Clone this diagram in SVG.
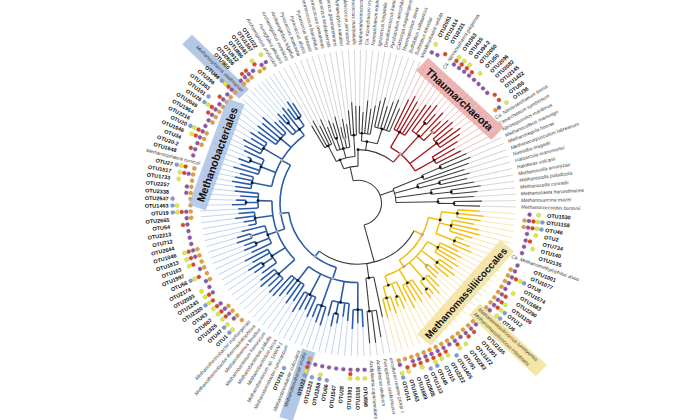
<svg xmlns="http://www.w3.org/2000/svg" width="700" height="420" viewBox="0 0 700 420">
<style>
text{font-family:"Liberation Sans",Arial,sans-serif;dominant-baseline:central}
.s{font-size:5px;font-style:italic;fill:#3a3a3a}
.o{font-size:5.5px;font-weight:bold;fill:#111}
.e{text-anchor:end}
.lf path{fill:none;stroke-width:.8}
.lk path{stroke:#cdcdcd}.lr path{stroke:#f0b4b4}.lb path{stroke:#b7cbe8}.ly path{stroke:#f5e2a0}
.lf circle{r:2.1px;stroke:#9a9a9a;stroke-width:.3}
.O{fill:#ec9a2c}.P{fill:#8c53a9}.R{fill:#e2401f}.Y{fill:#e0ee2c}.B{fill:#7d9bd6}
.br path,.br circle{fill:none}
.k path,.k circle{stroke:#3c3c3c;stroke-width:1.1}
.r path,.r circle{stroke:#a5171c;stroke-width:1.3}
.b path,.b circle{stroke:#2c5ba9;stroke-width:1.6}
.y path,.y circle{stroke:#f1bf12;stroke-width:1.5}
.nd circle{r:1.4px;fill:#111}
.nd circle.g{fill:#b0b0b0;stroke:#888;stroke-width:.3}
.cl{font-size:11px;font-weight:bold;fill:#111;text-anchor:middle}
</style>
<rect width="700" height="420" fill="#fff"/>
<g transform="translate(358 203) scale(1 0.97)">
<g id="species-highlights">
<rect x="160" y="-7" width="80" height="14" transform="rotate(224.6)" fill="#b3c7e6"/>
<rect x="160" y="-7" width="74" height="14" transform="rotate(107.9)" fill="#b3c7e6"/>
<rect x="160" y="-8" width="92" height="16" transform="rotate(43.3)" fill="#f5e6a6"/>
</g>
<g id="leaves">
<g id="n-Aprofundus" class="lf lk" transform="rotate(239.8)"><path d="M92 0H158"/><text class="s e" x="-163" transform="rotate(180)">Archaeoglobus profundus</text></g>
<g id="n-Fplacidus" class="lf lk" transform="rotate(242)"><path d="M96 0H158"/><text class="s e" x="-163" transform="rotate(180)">Ferroglobus placidus</text></g>
<g id="n-Aveneficus" class="lf lk" transform="rotate(244.3)"><path d="M88 0H158"/><text class="s e" x="-163" transform="rotate(180)">Archaeoglobus veneficus</text></g>
<g id="n-Afulgidus" class="lf lk" transform="rotate(246.5)"><path d="M94 0H158"/><text class="s e" x="-163" transform="rotate(180)">Archaeoglobus fulgidus</text></g>
<g id="n-Phorikoshii" class="lf lk" transform="rotate(248.7)"><path d="M84 0H158"/><text class="s e" x="-163" transform="rotate(180)">Pyrococcus horikoshii</text></g>
<g id="n-Pabyssi" class="lf lk" transform="rotate(250.9)"><path d="M90 0H158"/><text class="s e" x="-163" transform="rotate(180)">Pyrococcus abyssi</text></g>
<g id="n-Pfuriosus" class="lf lk" transform="rotate(253.1)"><path d="M86 0H158"/><text class="s e" x="-163" transform="rotate(180)">Pyrococcus furiosus</text></g>
<g id="n-Tbarophilus" class="lf lk" transform="rotate(255.4)"><path d="M92 0H158"/><text class="s e" x="-163" transform="rotate(180)">Thermococcus barophilus</text></g>
<g id="n-Tonnurineus" class="lf lk" transform="rotate(257.6)"><path d="M80 0H158"/><text class="s e" x="-163" transform="rotate(180)">Thermococcus onnurineus</text></g>
<g id="n-Tkodakarensis" class="lf lk" transform="rotate(259.8)"><path d="M88 0H158"/><text class="s e" x="-163" transform="rotate(180)">Thermococcus kodakarensis</text></g>
<g id="n-Tgammatolerans" class="lf lk" transform="rotate(262)"><path d="M82 0H158"/><text class="s e" x="-163" transform="rotate(180)">Thermococcus gammatolerans</text></g>
<g id="n-Mkandleri" class="lf lk" transform="rotate(264.2)"><path d="M96 0H158"/><text class="s e" x="-163" transform="rotate(180)">Methanopyrus kandleri</text></g>
<g id="n-Mjannaschii" class="lf lk" transform="rotate(266.5)"><path d="M104 0H158"/><text class="s e" x="-163" transform="rotate(180)">Methanocaldococcus jannaschii</text></g>
<g id="n-Mmaripaludis" class="lf lk" transform="rotate(268.7)"><path d="M100 0H158"/><text class="s e" x="-163" transform="rotate(180)">Methanococcus maripaludis</text></g>
<g id="n-Mokinawensis" class="lf lk" transform="rotate(-89.1)"><path d="M100 0H158"/><text class="s" x="163">Methanothermococcus okinawensis</text></g>
<g id="n-Kcryptofilum" class="lf lk" transform="rotate(-86.9)"><path d="M94 0H158"/><text class="s" x="163">Ca. Korarchaeum cryptofilum</text></g>
<g id="n-Nequitans" class="lf lk" transform="rotate(-84.7)"><path d="M106 0H158"/><text class="s" x="163">Nanoarchaeum equitans</text></g>
<g id="n-Ihospitalis" class="lf lk" transform="rotate(-82.4)"><path d="M98 0H158"/><text class="s" x="163">Ignicoccus hospitalis</text></g>
<g id="n-Dkamchatkensis" class="lf lk" transform="rotate(-80.2)"><path d="M102 0H158"/><text class="s" x="163">Desulfurococcus kamchatkensis</text></g>
<g id="n-Paerophilum" class="lf lk" transform="rotate(-78)"><path d="M108 0H158"/><text class="s" x="163">Pyrobaculum aerophilum</text></g>
<g id="n-Cmaquilingensis" class="lf lk" transform="rotate(-75.8)"><path d="M112 0H158"/><text class="s" x="163">Caldivirga maquilingensis</text></g>
<g id="n-Ttenax" class="lf lk" transform="rotate(-73.6)"><path d="M104 0H158"/><text class="s" x="163">Thermoproteus tenax</text></g>
<g id="n-Ssolfataricus" class="lf lk" transform="rotate(-71.3)"><path d="M110 0H158"/><text class="s" x="163">Sulfolobus solfataricus</text></g>
<g id="n-Stokodaii" class="lf lk" transform="rotate(-69.1)"><path d="M114 0H158"/><text class="s" x="163">Sulfolobus tokodaii</text></g>
<g id="n-Msedula" class="lf lk" transform="rotate(-66.9)"><path d="M106 0H158"/><text class="s" x="163">Metallosphaera sedula</text></g>

<g id="OTU2051" class="lf lr" transform="rotate(-64.6)"><path d="M118 0H158"/><circle class="P" cx="172"/><circle class="Y" cx="181"/><text class="o" x="189.5">OTU2051</text></g>
<g id="OTU1414" class="lf lr" transform="rotate(-62.5)"><path d="M124 0H158"/><circle class="P" cx="172"/><text class="o" x="189.5">OTU1414</text></g>
<g id="OTU2221" class="lf lr" transform="rotate(-60.4)"><path d="M120 0H158"/><circle class="R" cx="176.5"/><text class="o" x="189.5">OTU2221</text></g>
<g id="n-Ngargensis" class="lf lr" transform="rotate(-58.2)"><path d="M114 0H158"/><text class="s" x="163">Ca. Nitrososphaera gargensis</text></g>
<g id="OTU363" class="lf lr" transform="rotate(-56.1)"><path d="M122 0H158"/><circle class="P" cx="172"/><circle class="R" cx="176.5"/><circle class="Y" cx="181"/><text class="o" x="189.5">OTU363</text></g>
<g id="OTU435" class="lf lr" transform="rotate(-54)"><path d="M124 0H158"/><circle class="P" cx="172"/><circle class="R" cx="176.5"/><circle class="Y" cx="181"/><text class="o" x="189.5">OTU435</text></g>
<g id="OTU94-2" class="lf lr" transform="rotate(-51.9)"><path d="M128 0H158"/><circle class="P" cx="172"/><circle class="R" cx="176.5"/><circle class="Y" cx="181"/><text class="o" x="189.5">OTU94-2</text></g>
<g id="OTU2050" class="lf lr" transform="rotate(-49.8)"><path d="M120 0H158"/><circle class="P" cx="172"/><circle class="R" cx="176.5"/><text class="o" x="189.5">OTU2050</text></g>
<g id="OTU50" class="lf lr" transform="rotate(-47.6)"><path d="M126 0H158"/><circle class="P" cx="172"/><circle class="Y" cx="181"/><text class="o" x="189.5">OTU50</text></g>
<g id="OTU2096" class="lf lr" transform="rotate(-45.5)"><path d="M118 0H158"/><circle class="P" cx="172"/><text class="o" x="189.5">OTU2096</text></g>
<g id="OTU2082" class="lf lr" transform="rotate(-43.4)"><path d="M124 0H158"/><circle class="P" cx="172"/><text class="o" x="189.5">OTU2082</text></g>
<g id="OTU2145" class="lf lr" transform="rotate(-41.3)"><path d="M126 0H158"/><circle class="P" cx="172"/><text class="o" x="189.5">OTU2145</text></g>
<g id="OTU1422" class="lf lr" transform="rotate(-39.2)"><path d="M122 0H158"/><circle class="R" cx="176.5"/><text class="o" x="189.5">OTU1422</text></g>
<g id="OTU55" class="lf lr" transform="rotate(-37)"><path d="M128 0H158"/><circle class="R" cx="176.5"/><text class="o" x="189.5">OTU55</text></g>
<g id="OTU36" class="lf lr" transform="rotate(-34.9)"><path d="M124 0H158"/><circle class="O" cx="167.5"/><circle class="P" cx="172"/><circle class="Y" cx="181"/><text class="o" x="189.5">OTU36</text></g>
<g id="n-Nlimnia" class="lf lr" transform="rotate(-32.5)"><path d="M118 0H158"/><text class="s" x="163">Ca. Nitrosoarchaeum limnia</text></g>
<g id="n-Csymbiosum" class="lf lr" transform="rotate(-30.1)"><path d="M112 0H158"/><text class="s" x="163">Cenarchaeum symbiosum</text></g>
<g id="n-Nmaritimus" class="lf lr" transform="rotate(-27.6)"><path d="M116 0H158"/><text class="s" x="163">Nitrosopumilus maritimus</text></g>

<g id="n-Mmarisnigri" class="lf lk" transform="rotate(-25.2)"><path d="M120 0H158"/><text class="s" x="163">Methanoculleus marisnigri</text></g>
<g id="n-Mboonei" class="lf lk" transform="rotate(-22.8)"><path d="M122 0H158"/><text class="s" x="163">Methanoregula boonei</text></g>
<g id="n-Mlabreanum" class="lf lk" transform="rotate(-20.3)"><path d="M118 0H158"/><text class="s" x="163">Methanocorpusculum labreanum</text></g>
<g id="n-Nmagadii" class="lf lk" transform="rotate(-17.9)"><path d="M112 0H158"/><text class="s" x="163">Natrialba magadii</text></g>
<g id="n-Hmarismortui" class="lf lk" transform="rotate(-15.5)"><path d="M116 0H158"/><text class="s" x="163">Haloarcula marismortui</text></g>
<g id="n-Hvolcanii" class="lf lk" transform="rotate(-13)"><path d="M112 0H158"/><text class="s" x="163">Haloferax volcanii</text></g>
<g id="n-Marvoryzae" class="lf lk" transform="rotate(-10.6)"><path d="M118 0H158"/><text class="s" x="163">Methanocella arvoryzae</text></g>
<g id="n-Mpaludicola" class="lf lk" transform="rotate(-8.2)"><path d="M124 0H158"/><text class="s" x="163">Methanocella paludicola</text></g>
<g id="n-Mconradii" class="lf lk" transform="rotate(-5.7)"><path d="M120 0H158"/><text class="s" x="163">Methanocella conradii</text></g>
<g id="n-Mharundinacea" class="lf lk" transform="rotate(-3.3)"><path d="M116 0H158"/><text class="s" x="163">Methanosaeta harundinacea</text></g>
<g id="n-Mmazei" class="lf lk" transform="rotate(-0.9)"><path d="M124 0H158"/><text class="s" x="163">Methanosarcina mazei</text></g>
<g id="n-Mburtonii" class="lf lk" transform="rotate(1.5)"><path d="M122 0H158"/><text class="s" x="163">Methanococcoides burtonii</text></g>

<g id="OTU1530" class="lf ly" transform="rotate(4)"><path d="M122 0H158"/><circle class="P" cx="172"/><circle class="Y" cx="181"/><text class="o" x="189.5">OTU1530</text></g>
<g id="OTU1158" class="lf ly" transform="rotate(6.2)"><path d="M126 0H158"/><circle class="O" cx="167.5"/><circle class="P" cx="172"/><circle class="R" cx="176.5"/><circle class="Y" cx="181"/><circle class="B" cx="185.5"/><text class="o" x="189.5">OTU1158</text></g>
<g id="OTU46" class="lf ly" transform="rotate(8.5)"><path d="M124 0H158"/><circle class="O" cx="167.5"/><circle class="P" cx="172"/><circle class="R" cx="176.5"/><circle class="Y" cx="181"/><circle class="B" cx="185.5"/><text class="o" x="189.5">OTU46</text></g>
<g id="OTU2" class="lf ly" transform="rotate(10.7)"><path d="M118 0H158"/><circle class="P" cx="172"/><circle class="Y" cx="181"/><text class="o" x="189.5">OTU2</text></g>
<g id="OTU734" class="lf ly" transform="rotate(13)"><path d="M124 0H158"/><circle class="P" cx="172"/><circle class="R" cx="176.5"/><text class="o" x="189.5">OTU734</text></g>
<g id="OTU140" class="lf ly" transform="rotate(15.2)"><path d="M126 0H158"/><circle class="P" cx="172"/><circle class="Y" cx="181"/><text class="o" x="189.5">OTU140</text></g>
<g id="OTU2135" class="lf ly" transform="rotate(17.5)"><path d="M120 0H158"/><circle class="P" cx="172"/><text class="o" x="189.5">OTU2135</text></g>
<g id="n-Malvus" class="lf ly" transform="rotate(19.7)"><path d="M112 0H158"/><text class="s" x="163">Ca. Methanomethylophilus alvus</text></g>
<g id="OTU1001" class="lf ly" transform="rotate(22)"><path d="M120 0H158"/><circle class="P" cx="172"/><text class="o" x="189.5">OTU1001</text></g>
<g id="OTU1077" class="lf ly" transform="rotate(24.2)"><path d="M124 0H158"/><circle class="O" cx="167.5"/><circle class="P" cx="172"/><text class="o" x="189.5">OTU1077</text></g>
<g id="OTU8" class="lf ly" transform="rotate(26.5)"><path d="M112 0H158"/><circle class="O" cx="167.5"/><circle class="P" cx="172"/><circle class="R" cx="176.5"/><circle class="Y" cx="181"/><circle class="B" cx="185.5"/><text class="o" x="189.5">OTU8</text></g>
<g id="OTU1574" class="lf ly" transform="rotate(28.7)"><path d="M118 0H158"/><circle class="O" cx="167.5"/><circle class="P" cx="172"/><text class="o" x="189.5">OTU1574</text></g>
<g id="OTU1683" class="lf ly" transform="rotate(31)"><path d="M114 0H158"/><circle class="O" cx="167.5"/><circle class="P" cx="172"/><circle class="Y" cx="181"/><text class="o" x="189.5">OTU1683</text></g>
<g id="OTU2290" class="lf ly" transform="rotate(33.2)"><path d="M120 0H158"/><circle class="O" cx="167.5"/><circle class="P" cx="172"/><circle class="R" cx="176.5"/><text class="o" x="189.5">OTU2290</text></g>
<g id="OTU1106" class="lf ly" transform="rotate(35.5)"><path d="M116 0H158"/><circle class="O" cx="167.5"/><circle class="P" cx="172"/><circle class="R" cx="176.5"/><circle class="Y" cx="181"/><text class="o" x="189.5">OTU1106</text></g>
<g id="OTU12" class="lf ly" transform="rotate(37.7)"><path d="M122 0H158"/><circle class="O" cx="167.5"/><circle class="P" cx="172"/><circle class="R" cx="176.5"/><circle class="Y" cx="181"/><circle class="B" cx="185.5"/><text class="o" x="189.5">OTU12</text></g>
<g id="OTU9" class="lf ly" transform="rotate(40)"><path d="M118 0H158"/><circle class="O" cx="167.5"/><circle class="P" cx="172"/><circle class="Y" cx="181"/><circle class="B" cx="185.5"/><text class="o" x="189.5">OTU9</text></g>
<g id="n-Mluminyensis" class="lf ly" transform="rotate(42.2)"><path d="M108 0H158"/><text class="s" x="163">Methanomassiliicoccus luminyensis</text></g>
<g id="n-Mintestinalis" class="lf ly" transform="rotate(44.4)"><path d="M110 0H158"/><text class="s" x="163">Methanomassiliicoccus intestinalis</text></g>
<g id="OTU2165" class="lf ly" transform="rotate(46.7)"><path d="M118 0H158"/><circle class="O" cx="167.5"/><circle class="P" cx="172"/><text class="o" x="189.5">OTU2165</text></g>
<g id="OTU301" class="lf ly" transform="rotate(48.9)"><path d="M124 0H158"/><circle class="O" cx="167.5"/><circle class="P" cx="172"/><circle class="R" cx="176.5"/><text class="o" x="189.5">OTU301</text></g>
<g id="OTU1472" class="lf ly" transform="rotate(51.2)"><path d="M120 0H158"/><circle class="O" cx="167.5"/><circle class="P" cx="172"/><circle class="R" cx="176.5"/><text class="o" x="189.5">OTU1472</text></g>
<g id="OTU2283" class="lf ly" transform="rotate(53.4)"><path d="M122 0H158"/><circle class="O" cx="167.5"/><circle class="P" cx="172"/><circle class="Y" cx="181"/><text class="o" x="189.5">OTU2283</text></g>
<g id="OTU51" class="lf ly" transform="rotate(55.7)"><path d="M114 0H158"/><circle class="O" cx="167.5"/><circle class="P" cx="172"/><circle class="R" cx="176.5"/><circle class="Y" cx="181"/><text class="o" x="189.5">OTU51</text></g>
<g id="OTU1405" class="lf ly" transform="rotate(57.9)"><path d="M120 0H158"/><circle class="O" cx="167.5"/><circle class="P" cx="172"/><circle class="B" cx="185.5"/><text class="o" x="189.5">OTU1405</text></g>
<g id="OTU2222" class="lf ly" transform="rotate(60.2)"><path d="M116 0H158"/><circle class="O" cx="167.5"/><circle class="P" cx="172"/><circle class="R" cx="176.5"/><circle class="Y" cx="181"/><text class="o" x="189.5">OTU2222</text></g>
<g id="OTU15" class="lf ly" transform="rotate(62.4)"><path d="M122 0H158"/><circle class="O" cx="167.5"/><circle class="P" cx="172"/><circle class="R" cx="176.5"/><circle class="Y" cx="181"/><text class="o" x="189.5">OTU15</text></g>
<g id="OTU45" class="lf ly" transform="rotate(64.7)"><path d="M112 0H158"/><circle class="O" cx="167.5"/><circle class="P" cx="172"/><circle class="R" cx="176.5"/><circle class="Y" cx="181"/><circle class="B" cx="185.5"/><text class="o" x="189.5">OTU45</text></g>
<g id="OTU1313" class="lf ly" transform="rotate(66.9)"><path d="M118 0H158"/><circle class="O" cx="167.5"/><circle class="P" cx="172"/><circle class="R" cx="176.5"/><circle class="B" cx="185.5"/><text class="o" x="189.5">OTU1313</text></g>
<g id="OTU2605" class="lf ly" transform="rotate(69.2)"><path d="M114 0H158"/><circle class="O" cx="167.5"/><circle class="P" cx="172"/><circle class="R" cx="176.5"/><circle class="Y" cx="181"/><text class="o" x="189.5">OTU2605</text></g>
<g id="OTU1689" class="lf ly" transform="rotate(71.4)"><path d="M120 0H158"/><circle class="O" cx="167.5"/><circle class="P" cx="172"/><circle class="R" cx="176.5"/><text class="o" x="189.5">OTU1689</text></g>
<g id="OTU1663" class="lf ly" transform="rotate(73.7)"><path d="M116 0H158"/><circle class="O" cx="167.5"/><circle class="R" cx="176.5"/><circle class="Y" cx="181"/><text class="o" x="189.5">OTU1663</text></g>
<g id="OTU141" class="lf ly" transform="rotate(75.9)"><path d="M122 0H158"/><circle class="O" cx="167.5"/><circle class="P" cx="172"/><circle class="Y" cx="181"/><circle class="B" cx="185.5"/><text class="o" x="189.5">OTU141</text></g>

<g id="n-uncMGII" class="lf lk" transform="rotate(78.3)"><path d="M120 0H158"/><text class="s" x="163">uncultured marine group II</text></g>
<g id="n-Facidarmanus" class="lf lk" transform="rotate(80.6)"><path d="M140 0H158"/><text class="s" x="163">Ferroplasma acidarmanus</text></g>
<g id="n-Aaeolicum" class="lf lk" transform="rotate(83)"><path d="M145 0H158"/><text class="s" x="163">Acidiplasma aeolicum</text></g>
<g id="n-Acupricumulans" class="lf lk" transform="rotate(85.4)"><path d="M145 0H158"/><text class="s" x="163">Acidiplasma cupricumulans</text></g>

<g id="OTU898" class="lf lb" transform="rotate(87.8)"><path d="M128 0H158"/><circle class="P" cx="172"/><circle class="Y" cx="181"/><text class="o" x="189.5">OTU898</text></g>
<g id="OTU1516" class="lf lb" transform="rotate(90.1)"><path d="M124 0H158"/><circle class="P" cx="172"/><circle class="Y" cx="181"/><text class="o e" x="-189.5" transform="rotate(180)">OTU1516</text></g>
<g id="OTU1393" class="lf lb" transform="rotate(92.5)"><path d="M130 0H158"/><circle class="P" cx="172"/><circle class="R" cx="176.5"/><circle class="Y" cx="181"/><text class="o e" x="-189.5" transform="rotate(180)">OTU1393</text></g>
<g id="OTU28" class="lf lb" transform="rotate(94.9)"><path d="M122 0H158"/><circle class="P" cx="172"/><text class="o e" x="-189.5" transform="rotate(180)">OTU28</text></g>
<g id="OTU1547" class="lf lb" transform="rotate(97.3)"><path d="M118 0H158"/><circle class="P" cx="172"/><text class="o e" x="-189.5" transform="rotate(180)">OTU1547</text></g>
<g id="OTU66" class="lf lb" transform="rotate(99.7)"><path d="M126 0H158"/><circle class="P" cx="172"/><circle class="B" cx="185.5"/><text class="o e" x="-189.5" transform="rotate(180)">OTU66</text></g>
<g id="OTU1268" class="lf lb" transform="rotate(102)"><path d="M130 0H158"/><circle class="P" cx="172"/><circle class="Y" cx="181"/><circle class="B" cx="185.5"/><text class="o e" x="-189.5" transform="rotate(180)">OTU1268</text></g>
<g id="OTU1323" class="lf lb" transform="rotate(104.4)"><path d="M120 0H158"/><circle class="P" cx="172"/><circle class="B" cx="185.5"/><text class="o e" x="-189.5" transform="rotate(180)">OTU1323</text></g>
<g id="OTU22" class="lf lb" transform="rotate(106.7)"><path d="M132 0H158"/><circle class="O" cx="167.5"/><circle class="P" cx="172"/><circle class="R" cx="176.5"/><circle class="Y" cx="181"/><circle class="B" cx="185.5"/><text class="o e" x="-189.5" transform="rotate(180)">OTU22</text></g>
<g id="n-Msmithii" class="lf lb" transform="rotate(109)"><path d="M130 0H158"/><text class="s e" x="-163" transform="rotate(180)">Methanobrevibacter smithii</text></g>
<g id="n-Mcuticularis" class="lf lb" transform="rotate(111.2)"><path d="M126 0H158"/><text class="s e" x="-163" transform="rotate(180)">Methanobrevibacter cuticularis</text></g>
<g id="OTU751" class="lf lb" transform="rotate(113.5)"><path d="M128 0H158"/><circle class="B" cx="185.5"/><text class="o e" x="-189.5" transform="rotate(180)">OTU751</text></g>
<g id="n-Mruminantium" class="lf lb" transform="rotate(115.8)"><path d="M122 0H158"/><text class="s e" x="-163" transform="rotate(180)">Methanobrevibacter ruminantium</text></g>
<g id="n-MSWAN1" class="lf lb" transform="rotate(118.1)"><path d="M125 0H158"/><text class="s e" x="-163" transform="rotate(180)">Methanobacterium sp. SWAN-1</text></g>
<g id="n-Mlacus" class="lf lb" transform="rotate(120.3)"><path d="M130 0H158"/><text class="s e" x="-163" transform="rotate(180)">Methanobacterium lacus</text></g>
<g id="n-Mpaludis" class="lf lb" transform="rotate(122.6)"><path d="M120 0H158"/><text class="s e" x="-163" transform="rotate(180)">Methanobacterium paludis</text></g>
<g id="n-Mformicicum" class="lf lb" transform="rotate(124.9)"><path d="M126 0H158"/><text class="s e" x="-163" transform="rotate(180)">Methanobacterium formicicum</text></g>
<g id="n-Mfervidus" class="lf lb" transform="rotate(127.2)"><path d="M118 0H158"/><text class="s e" x="-163" transform="rotate(180)">Methanothermus fervidus</text></g>
<g id="n-Mthermautotrophicus" class="lf lb" transform="rotate(129.4)"><path d="M124 0H158"/><text class="s e" x="-163" transform="rotate(180)">Methanothermobacter thermautotrophicus</text></g>
<g id="n-Mmarburgensis" class="lf lb" transform="rotate(131.7)"><path d="M128 0H158"/><text class="s e" x="-163" transform="rotate(180)">Methanothermobacter marburgensis</text></g>
<g id="OTU1" class="lf lb" transform="rotate(133.9)"><path d="M128 0H158"/><circle class="O" cx="167.5"/><circle class="Y" cx="181"/><circle class="B" cx="185.5"/><text class="o e" x="-189.5" transform="rotate(180)">OTU1</text></g>
<g id="OTU47" class="lf lb" transform="rotate(136.2)"><path d="M124 0H158"/><circle class="O" cx="167.5"/><circle class="P" cx="172"/><circle class="Y" cx="181"/><circle class="B" cx="185.5"/><text class="o e" x="-189.5" transform="rotate(180)">OTU47</text></g>
<g id="OTU1926" class="lf lb" transform="rotate(138.5)"><path d="M130 0H158"/><circle class="O" cx="167.5"/><circle class="P" cx="172"/><circle class="R" cx="176.5"/><circle class="Y" cx="181"/><text class="o e" x="-189.5" transform="rotate(180)">OTU1926</text></g>
<g id="OTU607" class="lf lb" transform="rotate(140.7)"><path d="M126 0H158"/><circle class="O" cx="167.5"/><circle class="P" cx="172"/><circle class="R" cx="176.5"/><circle class="Y" cx="181"/><text class="o e" x="-189.5" transform="rotate(180)">OTU607</text></g>
<g id="OTU63" class="lf lb" transform="rotate(143)"><path d="M120 0H158"/><circle class="P" cx="172"/><circle class="R" cx="176.5"/><circle class="Y" cx="181"/><text class="o e" x="-189.5" transform="rotate(180)">OTU63</text></g>
<g id="OTU2320" class="lf lb" transform="rotate(145.3)"><path d="M126 0H158"/><circle class="R" cx="176.5"/><circle class="Y" cx="181"/><circle class="B" cx="185.5"/><text class="o e" x="-189.5" transform="rotate(180)">OTU2320</text></g>
<g id="OTU1243" class="lf lb" transform="rotate(147.6)"><path d="M130 0H158"/><circle class="P" cx="172"/><circle class="R" cx="176.5"/><circle class="Y" cx="181"/><text class="o e" x="-189.5" transform="rotate(180)">OTU1243</text></g>
<g id="OTU2093" class="lf lb" transform="rotate(149.8)"><path d="M122 0H158"/><circle class="P" cx="172"/><circle class="Y" cx="181"/><text class="o e" x="-189.5" transform="rotate(180)">OTU2093</text></g>
<g id="OTU2174" class="lf lb" transform="rotate(152.1)"><path d="M128 0H158"/><circle class="O" cx="167.5"/><circle class="P" cx="172"/><text class="o e" x="-189.5" transform="rotate(180)">OTU2174</text></g>
<g id="OTU56" class="lf lb" transform="rotate(154.4)"><path d="M118 0H158"/><circle class="O" cx="167.5"/><circle class="R" cx="176.5"/><circle class="Y" cx="181"/><circle class="B" cx="185.5"/><text class="o e" x="-189.5" transform="rotate(180)">OTU56</text></g>
<g id="OTU1997" class="lf lb" transform="rotate(156.7)"><path d="M124 0H158"/><circle class="O" cx="167.5"/><circle class="P" cx="172"/><text class="o e" x="-189.5" transform="rotate(180)">OTU1997</text></g>
<g id="OTU163" class="lf lb" transform="rotate(158.9)"><path d="M122 0H158"/><circle class="O" cx="167.5"/><circle class="R" cx="176.5"/><circle class="Y" cx="181"/><text class="o e" x="-189.5" transform="rotate(180)">OTU163</text></g>
<g id="OTU1813" class="lf lb" transform="rotate(161.2)"><path d="M128 0H158"/><circle class="O" cx="167.5"/><circle class="P" cx="172"/><circle class="R" cx="176.5"/><circle class="Y" cx="181"/><text class="o e" x="-189.5" transform="rotate(180)">OTU1813</text></g>
<g id="OTU1046" class="lf lb" transform="rotate(163.5)"><path d="M126 0H158"/><circle class="O" cx="167.5"/><circle class="P" cx="172"/><circle class="R" cx="176.5"/><circle class="Y" cx="181"/><text class="o e" x="-189.5" transform="rotate(180)">OTU1046</text></g>
<g id="OTU2644" class="lf lb" transform="rotate(165.8)"><path d="M120 0H158"/><circle class="P" cx="172"/><text class="o e" x="-189.5" transform="rotate(180)">OTU2644</text></g>
<g id="OTU712" class="lf lb" transform="rotate(168)"><path d="M112 0H158"/><circle class="P" cx="172"/><text class="o e" x="-189.5" transform="rotate(180)">OTU712</text></g>
<g id="OTU2213" class="lf lb" transform="rotate(170.3)"><path d="M116 0H158"/><circle class="P" cx="172"/><text class="o e" x="-189.5" transform="rotate(180)">OTU2213</text></g>
<g id="OTU54" class="lf lb" transform="rotate(172.6)"><path d="M124 0H158"/><circle class="P" cx="172"/><circle class="R" cx="176.5"/><text class="o e" x="-189.5" transform="rotate(180)">OTU54</text></g>
<g id="OTU2665" class="lf lb" transform="rotate(174.8)"><path d="M120 0H158"/><circle class="O" cx="167.5"/><circle class="P" cx="172"/><text class="o e" x="-189.5" transform="rotate(180)">OTU2665</text></g>
<g id="OTU19" class="lf lb" transform="rotate(177)"><path d="M120 0H158"/><circle class="O" cx="167.5"/><circle class="P" cx="172"/><circle class="R" cx="176.5"/><circle class="Y" cx="181"/><circle class="B" cx="185.5"/><text class="o e" x="-189.5" transform="rotate(180)">OTU19</text></g>
<g id="OTU1463" class="lf lb" transform="rotate(179.2)"><path d="M126 0H158"/><circle class="O" cx="167.5"/><circle class="Y" cx="181"/><circle class="B" cx="185.5"/><text class="o e" x="-189.5" transform="rotate(180)">OTU1463</text></g>
<g id="OTU2547" class="lf lb" transform="rotate(181.4)"><path d="M122 0H158"/><circle class="O" cx="167.5"/><circle class="B" cx="185.5"/><text class="o e" x="-189.5" transform="rotate(180)">OTU2547</text></g>
<g id="OTU2338" class="lf lb" transform="rotate(183.5)"><path d="M118 0H158"/><circle class="O" cx="167.5"/><circle class="P" cx="172"/><text class="o e" x="-189.5" transform="rotate(180)">OTU2338</text></g>
<g id="OTU2257" class="lf lb" transform="rotate(185.7)"><path d="M124 0H158"/><circle class="O" cx="167.5"/><circle class="P" cx="172"/><text class="o e" x="-189.5" transform="rotate(180)">OTU2257</text></g>
<g id="OTU1733" class="lf lb" transform="rotate(187.9)"><path d="M124 0H158"/><circle class="O" cx="167.5"/><circle class="Y" cx="181"/><text class="o e" x="-189.5" transform="rotate(180)">OTU1733</text></g>
<g id="OTU1517" class="lf lb" transform="rotate(190.1)"><path d="M128 0H158"/><circle class="O" cx="167.5"/><circle class="P" cx="172"/><circle class="R" cx="176.5"/><circle class="Y" cx="181"/><text class="o e" x="-189.5" transform="rotate(180)">OTU1517</text></g>
<g id="OTU27" class="lf lb" transform="rotate(192.3)"><path d="M126 0H158"/><circle class="O" cx="167.5"/><circle class="R" cx="176.5"/><circle class="Y" cx="181"/><circle class="B" cx="185.5"/><text class="o e" x="-189.5" transform="rotate(180)">OTU27</text></g>
<g id="n-Mcuniculi" class="lf lb" transform="rotate(194.4)"><path d="M122 0H158"/><text class="s e" x="-163" transform="rotate(180)">Methanosphaera cuniculi</text></g>
<g id="OTU1648" class="lf lb" transform="rotate(196.6)"><path d="M130 0H158"/><circle class="P" cx="172"/><text class="o e" x="-189.5" transform="rotate(180)">OTU1648</text></g>
<g id="OTU20-2" class="lf lb" transform="rotate(198.8)"><path d="M124 0H158"/><circle class="P" cx="172"/><circle class="R" cx="176.5"/><text class="o e" x="-189.5" transform="rotate(180)">OTU20-2</text></g>
<g id="OTU34" class="lf lb" transform="rotate(201)"><path d="M128 0H158"/><circle class="O" cx="167.5"/><circle class="P" cx="172"/><text class="o e" x="-189.5" transform="rotate(180)">OTU34</text></g>
<g id="OTU1946" class="lf lb" transform="rotate(203.2)"><path d="M120 0H158"/><circle class="O" cx="167.5"/><circle class="P" cx="172"/><circle class="R" cx="176.5"/><circle class="Y" cx="181"/><text class="o e" x="-189.5" transform="rotate(180)">OTU1946</text></g>
<g id="OTU20" class="lf lb" transform="rotate(205.4)"><path d="M126 0H158"/><circle class="O" cx="167.5"/><circle class="P" cx="172"/><circle class="R" cx="176.5"/><circle class="Y" cx="181"/><circle class="B" cx="185.5"/><text class="o e" x="-189.5" transform="rotate(180)">OTU20</text></g>
<g id="OTU2216" class="lf lb" transform="rotate(207.5)"><path d="M128 0H158"/><circle class="P" cx="172"/><text class="o e" x="-189.5" transform="rotate(180)">OTU2216</text></g>
<g id="OTU1964" class="lf lb" transform="rotate(209.7)"><path d="M132 0H158"/><circle class="O" cx="167.5"/><circle class="P" cx="172"/><text class="o e" x="-189.5" transform="rotate(180)">OTU1964</text></g>
<g id="OTU2049" class="lf lb" transform="rotate(211.9)"><path d="M126 0H158"/><circle class="O" cx="167.5"/><circle class="P" cx="172"/><circle class="R" cx="176.5"/><text class="o e" x="-189.5" transform="rotate(180)">OTU2049</text></g>
<g id="OTU26" class="lf lb" transform="rotate(214.1)"><path d="M130 0H158"/><circle class="O" cx="167.5"/><circle class="P" cx="172"/><circle class="R" cx="176.5"/><circle class="Y" cx="181"/><circle class="B" cx="185.5"/><text class="o e" x="-189.5" transform="rotate(180)">OTU26</text></g>
<g id="OTU101" class="lf lb" transform="rotate(216.3)"><path d="M124 0H158"/><circle class="O" cx="167.5"/><circle class="P" cx="172"/><circle class="B" cx="185.5"/><text class="o e" x="-189.5" transform="rotate(180)">OTU101</text></g>
<g id="OTU1363" class="lf lb" transform="rotate(218.4)"><path d="M128 0H158"/><circle class="O" cx="167.5"/><circle class="P" cx="172"/><circle class="R" cx="176.5"/><text class="o e" x="-189.5" transform="rotate(180)">OTU1363</text></g>
<g id="OTU396" class="lf lb" transform="rotate(220.6)"><path d="M126 0H158"/><circle class="O" cx="167.5"/><circle class="P" cx="172"/><text class="o e" x="-189.5" transform="rotate(180)">OTU396</text></g>
<g id="OTU44" class="lf lb" transform="rotate(222.8)"><path d="M130 0H158"/><circle class="O" cx="167.5"/><circle class="P" cx="172"/><circle class="R" cx="176.5"/><circle class="Y" cx="181"/><circle class="B" cx="185.5"/><text class="o e" x="-189.5" transform="rotate(180)">OTU44</text></g>
<g id="n-Mstadtmanae" class="lf lb" transform="rotate(225)"><path d="M118 0H158"/><text class="s e" x="-163" transform="rotate(180)">Methanosphaera stadtmanae</text></g>
<g id="OTU960" class="lf lb" transform="rotate(227.1)"><path d="M116 0H158"/><circle class="O" cx="167.5"/><circle class="P" cx="172"/><text class="o e" x="-189.5" transform="rotate(180)">OTU960</text></g>
<g id="OTU2606" class="lf lb" transform="rotate(228.9)"><path d="M122 0H158"/><circle class="O" cx="167.5"/><circle class="P" cx="172"/><circle class="R" cx="176.5"/><text class="o e" x="-189.5" transform="rotate(180)">OTU2606</text></g>
<g id="OTU912" class="lf lb" transform="rotate(230.6)"><path d="M118 0H158"/><circle class="O" cx="167.5"/><circle class="P" cx="172"/><circle class="R" cx="176.5"/><text class="o e" x="-189.5" transform="rotate(180)">OTU912</text></g>
<g id="OTU886" class="lf lb" transform="rotate(232.4)"><path d="M124 0H158"/><circle class="P" cx="172"/><text class="o e" x="-189.5" transform="rotate(180)">OTU886</text></g>
<g id="OTU1691" class="lf lb" transform="rotate(234.1)"><path d="M120 0H158"/><circle class="O" cx="167.5"/><circle class="R" cx="176.5"/><circle class="Y" cx="181"/><text class="o e" x="-189.5" transform="rotate(180)">OTU1691</text></g>
<g id="OTU1367" class="lf lb" transform="rotate(235.9)"><path d="M126 0H158"/><circle class="O" cx="167.5"/><circle class="P" cx="172"/><text class="o e" x="-189.5" transform="rotate(180)">OTU1367</text></g>
<g id="OTU1022" class="lf lb" transform="rotate(237.6)"><path d="M122 0H158"/><circle class="P" cx="172"/><circle class="Y" cx="181"/><text class="o e" x="-189.5" transform="rotate(180)">OTU1022</text></g>
</g>

<g id="connectors" class="br">
<g class="k">
<circle r="23.5" pathLength="360" stroke-dasharray="177 360" transform="rotate(-102)"/>
<path d="M23.5 0H38" transform="rotate(-102)"/>
<circle r="38" pathLength="360" stroke-dasharray="22 360" transform="rotate(-112)"/>
<path d="M38 0H48" transform="rotate(-112)"/>
<circle r="48" pathLength="360" stroke-dasharray="23.35 360" transform="rotate(-116.85)"/>
<path d="M48 0H66" transform="rotate(-116.85)"/>
<circle r="66" pathLength="360" stroke-dasharray="6.7 360" transform="rotate(-120.2)"/>
<path d="M66 0H92" transform="rotate(-120.2)"/><path d="M66 0H96" transform="rotate(-118)"/><path d="M66 0H88" transform="rotate(-115.7)"/><path d="M66 0H94" transform="rotate(-113.5)"/>
<path d="M48 0H58" transform="rotate(-104.6)"/>
<circle r="58" pathLength="360" stroke-dasharray="13.3 360" transform="rotate(-111.3)"/>
<path d="M58 0H84" transform="rotate(-111.3)"/><path d="M58 0H70" transform="rotate(-108)"/>
<circle r="70" pathLength="360" stroke-dasharray="2.2 360" transform="rotate(-109.1)"/>
<path d="M70 0H90" transform="rotate(-109.1)"/><path d="M70 0H86" transform="rotate(-106.9)"/><path d="M58 0H92" transform="rotate(-104.6)"/>
<path d="M58 0H68" transform="rotate(-101.3)"/>
<circle r="68" pathLength="360" stroke-dasharray="2.2 360" transform="rotate(-102.4)"/>
<path d="M68 0H80" transform="rotate(-102.4)"/><path d="M68 0H88" transform="rotate(-100.2)"/><path d="M58 0H82" transform="rotate(-98)"/>
<path d="M48 0H70" transform="rotate(-93.5)"/>
<circle r="70" pathLength="360" stroke-dasharray="4.5 360" transform="rotate(-95.8)"/>
<path d="M70 0H96" transform="rotate(-95.8)"/><path d="M70 0H104" transform="rotate(-93.5)"/><path d="M70 0H100" transform="rotate(-91.3)"/>
<path d="M38 0H55" transform="rotate(-90)"/>
<circle r="55" pathLength="360" stroke-dasharray="40 360" transform="rotate(-90)"/>
<path d="M55 0H64" transform="rotate(-82)"/>
<circle r="64" pathLength="360" stroke-dasharray="14.4 360" transform="rotate(-86.9)"/>
<path d="M64 0H72" transform="rotate(-86.9)"/>
<circle r="72" pathLength="360" stroke-dasharray="8.9 360" transform="rotate(-89.1)"/>
<path d="M72 0H100" transform="rotate(-89.1)"/><path d="M72 0H94" transform="rotate(-86.9)"/><path d="M72 0H106" transform="rotate(-84.7)"/><path d="M72 0H98" transform="rotate(-82.4)"/><path d="M72 0H102" transform="rotate(-80.2)"/>
<path d="M64 0H80" transform="rotate(-72.5)"/>
<circle r="80" pathLength="360" stroke-dasharray="11.1 360" transform="rotate(-78)"/>
<path d="M80 0H108" transform="rotate(-78)"/><path d="M80 0H112" transform="rotate(-75.8)"/><path d="M80 0H104" transform="rotate(-73.6)"/><path d="M80 0H110" transform="rotate(-71.3)"/><path d="M80 0H114" transform="rotate(-69.1)"/><path d="M80 0H106" transform="rotate(-66.9)"/>
<path d="M23.5 0H38" transform="rotate(-20)"/>
<circle r="38" pathLength="360" stroke-dasharray="21.9 360" transform="rotate(-22.8)"/>
<path d="M38 0H70" transform="rotate(-22.8)"/>
<circle r="70" pathLength="360" stroke-dasharray="3.7 360" transform="rotate(-24)"/>
<path d="M70 0H90" transform="rotate(-24)"/>
<circle r="90" pathLength="360" stroke-dasharray="2.4 360" transform="rotate(-25.2)"/>
<path d="M90 0H120" transform="rotate(-25.2)"/><path d="M90 0H122" transform="rotate(-22.8)"/><path d="M70 0H118" transform="rotate(-20.3)"/>
<path d="M38 0H62" transform="rotate(-15.5)"/>
<circle r="62" pathLength="360" stroke-dasharray="3.65 360" transform="rotate(-17.9)"/>
<path d="M62 0H112" transform="rotate(-17.9)"/><path d="M62 0H84" transform="rotate(-14.25)"/>
<circle r="84" pathLength="360" stroke-dasharray="2.5 360" transform="rotate(-15.5)"/>
<path d="M84 0H116" transform="rotate(-15.5)"/><path d="M84 0H112" transform="rotate(-13)"/>
<path d="M38 0H74" transform="rotate(-8.2)"/>
<circle r="74" pathLength="360" stroke-dasharray="3.65 360" transform="rotate(-10.6)"/>
<path d="M74 0H118" transform="rotate(-10.6)"/><path d="M74 0H94" transform="rotate(-6.95)"/>
<circle r="94" pathLength="360" stroke-dasharray="2.5 360" transform="rotate(-8.2)"/>
<path d="M94 0H124" transform="rotate(-8.2)"/><path d="M94 0H120" transform="rotate(-5.7)"/>
<path d="M38 0H80" transform="rotate(-0.9)"/>
<circle r="80" pathLength="360" stroke-dasharray="3.6 360" transform="rotate(-3.3)"/>
<path d="M80 0H116" transform="rotate(-3.3)"/><path d="M80 0H96" transform="rotate(0.3)"/>
<circle r="96" pathLength="360" stroke-dasharray="2.4 360" transform="rotate(-0.9)"/>
<path d="M96 0H124" transform="rotate(-0.9)"/><path d="M96 0H122" transform="rotate(1.5)"/>
<path d="M23.5 0H63" transform="rotate(75)"/>
<circle r="63" pathLength="360" stroke-dasharray="101 360" transform="rotate(27)"/>
<path d="M63 0H78" transform="rotate(82)"/>
<circle r="78" pathLength="360" stroke-dasharray="5.9 360" transform="rotate(78.3)"/>
<path d="M78 0H120" transform="rotate(78.3)"/><path d="M78 0H112" transform="rotate(84.2)"/>
<circle r="112" pathLength="360" stroke-dasharray="4.8 360" transform="rotate(80.6)"/>
<path d="M112 0H140" transform="rotate(80.6)"/><path d="M112 0H145" transform="rotate(83)"/><path d="M112 0H145" transform="rotate(85.4)"/>
</g>
<g class="r">
<path d="M55 0H66" transform="rotate(-50)"/>
<circle r="66" pathLength="360" stroke-dasharray="30.3 360" transform="rotate(-60.4)"/>
<path d="M66 0H84" transform="rotate(-60.4)"/>
<circle r="84" pathLength="360" stroke-dasharray="8.5 360" transform="rotate(-64.6)"/>
<path d="M84 0H118" transform="rotate(-64.6)"/><path d="M84 0H124" transform="rotate(-62.5)"/><path d="M84 0H120" transform="rotate(-60.4)"/><path d="M84 0H114" transform="rotate(-58.2)"/><path d="M84 0H122" transform="rotate(-56.1)"/>
<path d="M66 0H92" transform="rotate(-48.7)"/>
<circle r="92" pathLength="360" stroke-dasharray="9.55 360" transform="rotate(-54)"/>
<path d="M92 0H124" transform="rotate(-54)"/><path d="M92 0H106" transform="rotate(-50.85)"/>
<circle r="106" pathLength="360" stroke-dasharray="2.1 360" transform="rotate(-51.9)"/>
<path d="M106 0H128" transform="rotate(-51.9)"/><path d="M106 0H120" transform="rotate(-49.8)"/>
<path d="M92 0H126" transform="rotate(-47.6)"/><path d="M92 0H104" transform="rotate(-44.45)"/>
<circle r="104" pathLength="360" stroke-dasharray="2.1 360" transform="rotate(-45.5)"/>
<path d="M104 0H118" transform="rotate(-45.5)"/><path d="M104 0H124" transform="rotate(-43.4)"/>
<path d="M66 0H100" transform="rotate(-38.1)"/>
<circle r="100" pathLength="360" stroke-dasharray="6.4 360" transform="rotate(-41.3)"/>
<path d="M100 0H126" transform="rotate(-41.3)"/><path d="M100 0H122" transform="rotate(-39.2)"/><path d="M100 0H128" transform="rotate(-37)"/><path d="M100 0H124" transform="rotate(-34.9)"/>
<path d="M66 0H88" transform="rotate(-30.1)"/>
<circle r="88" pathLength="360" stroke-dasharray="4.9 360" transform="rotate(-32.5)"/>
<path d="M88 0H118" transform="rotate(-32.5)"/><path d="M88 0H112" transform="rotate(-30.1)"/><path d="M88 0H116" transform="rotate(-27.6)"/>
</g>
<g class="y">
<path d="M63 0H72" transform="rotate(27)"/>
<circle r="72" pathLength="360" stroke-dasharray="43 360" transform="rotate(12)"/>
<path d="M72 0H84" transform="rotate(12)"/>
<circle r="84" pathLength="360" stroke-dasharray="15.8 360" transform="rotate(6.2)"/>
<path d="M84 0H100" transform="rotate(6.2)"/>
<circle r="100" pathLength="360" stroke-dasharray="4.5 360" transform="rotate(4)"/>
<path d="M100 0H122" transform="rotate(4)"/><path d="M100 0H126" transform="rotate(6.2)"/><path d="M100 0H124" transform="rotate(8.5)"/>
<path d="M84 0H96" transform="rotate(14.1)"/>
<circle r="96" pathLength="360" stroke-dasharray="6.8 360" transform="rotate(10.7)"/>
<path d="M96 0H118" transform="rotate(10.7)"/><path d="M96 0H124" transform="rotate(13)"/><path d="M96 0H126" transform="rotate(15.2)"/><path d="M96 0H120" transform="rotate(17.5)"/>
<path d="M84 0H104" transform="rotate(22)"/>
<circle r="104" pathLength="360" stroke-dasharray="4.5 360" transform="rotate(19.7)"/>
<path d="M104 0H112" transform="rotate(19.7)"/><path d="M104 0H120" transform="rotate(22)"/><path d="M104 0H124" transform="rotate(24.2)"/>
<path d="M72 0H80" transform="rotate(55)"/>
<circle r="80" pathLength="360" stroke-dasharray="40.5 360" transform="rotate(29.8)"/>
<path d="M80 0H92" transform="rotate(29.8)"/>
<circle r="92" pathLength="360" stroke-dasharray="6.7 360" transform="rotate(26.5)"/>
<path d="M92 0H112" transform="rotate(26.5)"/><path d="M92 0H118" transform="rotate(28.7)"/><path d="M92 0H114" transform="rotate(31)"/><path d="M92 0H120" transform="rotate(33.2)"/>
<path d="M80 0H100" transform="rotate(37.7)"/>
<circle r="100" pathLength="360" stroke-dasharray="4.5 360" transform="rotate(35.5)"/>
<path d="M100 0H116" transform="rotate(35.5)"/><path d="M100 0H122" transform="rotate(37.7)"/><path d="M100 0H118" transform="rotate(40)"/>
<path d="M80 0H94" transform="rotate(43.3)"/>
<circle r="94" pathLength="360" stroke-dasharray="2.2 360" transform="rotate(42.2)"/>
<path d="M94 0H108" transform="rotate(42.2)"/><path d="M94 0H110" transform="rotate(44.4)"/>
<path d="M80 0H102" transform="rotate(50)"/>
<circle r="102" pathLength="360" stroke-dasharray="5.6 360" transform="rotate(46.7)"/>
<path d="M102 0H118" transform="rotate(46.7)"/><path d="M102 0H124" transform="rotate(48.9)"/><path d="M102 0H112" transform="rotate(52.3)"/>
<circle r="112" pathLength="360" stroke-dasharray="2.2 360" transform="rotate(51.2)"/>
<path d="M112 0H120" transform="rotate(51.2)"/><path d="M112 0H122" transform="rotate(53.4)"/>
<path d="M80 0H96" transform="rotate(59)"/>
<circle r="96" pathLength="360" stroke-dasharray="6.7 360" transform="rotate(55.7)"/>
<path d="M96 0H114" transform="rotate(55.7)"/><path d="M96 0H120" transform="rotate(57.9)"/><path d="M96 0H116" transform="rotate(60.2)"/><path d="M96 0H122" transform="rotate(62.4)"/>
<path d="M80 0H90" transform="rotate(70.3)"/>
<circle r="90" pathLength="360" stroke-dasharray="9 360" transform="rotate(64.7)"/>
<path d="M90 0H112" transform="rotate(64.7)"/><path d="M90 0H104" transform="rotate(68.05)"/>
<circle r="104" pathLength="360" stroke-dasharray="2.3 360" transform="rotate(66.9)"/>
<path d="M104 0H118" transform="rotate(66.9)"/><path d="M104 0H114" transform="rotate(69.2)"/>
<path d="M90 0H102" transform="rotate(73.7)"/>
<circle r="102" pathLength="360" stroke-dasharray="4.5 360" transform="rotate(71.4)"/>
<path d="M102 0H120" transform="rotate(71.4)"/><path d="M102 0H116" transform="rotate(73.7)"/><path d="M102 0H122" transform="rotate(75.9)"/>
</g>
<g class="b">
<path d="M63 0H70" transform="rotate(128)"/>
<circle r="70" pathLength="360" stroke-dasharray="64 360" transform="rotate(108)"/>
<path d="M70 0H82" transform="rotate(108)"/>
<circle r="82" pathLength="360" stroke-dasharray="36.9 360" transform="rotate(90.1)"/>
<path d="M82 0H110" transform="rotate(90.1)"/>
<circle r="110" pathLength="360" stroke-dasharray="4.7 360" transform="rotate(87.8)"/>
<path d="M110 0H128" transform="rotate(87.8)"/><path d="M110 0H124" transform="rotate(90.1)"/><path d="M110 0H130" transform="rotate(92.5)"/>
<path d="M82 0H104" transform="rotate(99.7)"/>
<circle r="104" pathLength="360" stroke-dasharray="9.5 360" transform="rotate(94.9)"/>
<path d="M104 0H122" transform="rotate(94.9)"/><path d="M104 0H118" transform="rotate(97.3)"/><path d="M104 0H116" transform="rotate(100.85)"/>
<circle r="116" pathLength="360" stroke-dasharray="2.3 360" transform="rotate(99.7)"/>
<path d="M116 0H126" transform="rotate(99.7)"/><path d="M116 0H130" transform="rotate(102)"/><path d="M104 0H120" transform="rotate(104.4)"/>
<path d="M82 0H112" transform="rotate(109)"/>
<circle r="112" pathLength="360" stroke-dasharray="4.5 360" transform="rotate(106.7)"/>
<path d="M112 0H132" transform="rotate(106.7)"/><path d="M112 0H130" transform="rotate(109)"/><path d="M112 0H126" transform="rotate(111.2)"/>
<path d="M82 0H106" transform="rotate(117)"/>
<circle r="106" pathLength="360" stroke-dasharray="6.8 360" transform="rotate(113.5)"/>
<path d="M106 0H128" transform="rotate(113.5)"/><path d="M106 0H122" transform="rotate(115.8)"/><path d="M106 0H125" transform="rotate(118.1)"/><path d="M106 0H130" transform="rotate(120.3)"/>
<path d="M82 0H100" transform="rotate(127)"/>
<circle r="100" pathLength="360" stroke-dasharray="9.1 360" transform="rotate(122.6)"/>
<path d="M100 0H120" transform="rotate(122.6)"/><path d="M100 0H126" transform="rotate(124.9)"/><path d="M100 0H118" transform="rotate(127.2)"/><path d="M100 0H124" transform="rotate(129.4)"/><path d="M100 0H128" transform="rotate(131.7)"/>
<path d="M70 0H78" transform="rotate(172)"/>
<circle r="78" pathLength="360" stroke-dasharray="50 360" transform="rotate(160)"/>
<path d="M78 0H86" transform="rotate(160)"/>
<circle r="86" pathLength="360" stroke-dasharray="44.1 360" transform="rotate(137.3)"/>
<path d="M86 0H108" transform="rotate(137.3)"/>
<circle r="108" pathLength="360" stroke-dasharray="6.8 360" transform="rotate(133.9)"/>
<path d="M108 0H128" transform="rotate(133.9)"/><path d="M108 0H124" transform="rotate(136.2)"/><path d="M108 0H130" transform="rotate(138.5)"/><path d="M108 0H126" transform="rotate(140.7)"/>
<path d="M86 0H102" transform="rotate(147.6)"/>
<circle r="102" pathLength="360" stroke-dasharray="9.1 360" transform="rotate(143)"/>
<path d="M102 0H120" transform="rotate(143)"/><path d="M102 0H114" transform="rotate(146.45)"/>
<circle r="114" pathLength="360" stroke-dasharray="2.3 360" transform="rotate(145.3)"/>
<path d="M114 0H126" transform="rotate(145.3)"/><path d="M114 0H130" transform="rotate(147.6)"/><path d="M102 0H122" transform="rotate(149.8)"/><path d="M102 0H128" transform="rotate(152.1)"/>
<path d="M86 0H96" transform="rotate(160)"/>
<circle r="96" pathLength="360" stroke-dasharray="11.4 360" transform="rotate(154.4)"/>
<path d="M96 0H118" transform="rotate(154.4)"/><path d="M96 0H110" transform="rotate(157.8)"/>
<circle r="110" pathLength="360" stroke-dasharray="2.2 360" transform="rotate(156.7)"/>
<path d="M110 0H124" transform="rotate(156.7)"/><path d="M110 0H122" transform="rotate(158.9)"/>
<path d="M96 0H112" transform="rotate(162.35)"/>
<circle r="112" pathLength="360" stroke-dasharray="2.3 360" transform="rotate(161.2)"/>
<path d="M112 0H128" transform="rotate(161.2)"/><path d="M112 0H126" transform="rotate(163.5)"/><path d="M96 0H120" transform="rotate(165.8)"/>
<path d="M86 0H104" transform="rotate(171.4)"/>
<circle r="104" pathLength="360" stroke-dasharray="6.8 360" transform="rotate(168)"/>
<path d="M104 0H112" transform="rotate(168)"/><path d="M104 0H116" transform="rotate(170.3)"/><path d="M104 0H124" transform="rotate(172.6)"/><path d="M104 0H120" transform="rotate(174.8)"/>
<path d="M86 0H100" transform="rotate(181.4)"/>
<circle r="100" pathLength="360" stroke-dasharray="8.7 360" transform="rotate(177)"/>
<path d="M100 0H120" transform="rotate(177)"/><path d="M100 0H112" transform="rotate(180.3)"/>
<circle r="112" pathLength="360" stroke-dasharray="2.2 360" transform="rotate(179.2)"/>
<path d="M112 0H126" transform="rotate(179.2)"/><path d="M112 0H122" transform="rotate(181.4)"/><path d="M100 0H118" transform="rotate(183.5)"/><path d="M100 0H124" transform="rotate(185.7)"/>
<path d="M78 0H88" transform="rotate(210)"/>
<circle r="88" pathLength="360" stroke-dasharray="41.2 360" transform="rotate(191.2)"/>
<path d="M88 0H108" transform="rotate(191.2)"/>
<circle r="108" pathLength="360" stroke-dasharray="6.5 360" transform="rotate(187.9)"/>
<path d="M108 0H124" transform="rotate(187.9)"/><path d="M108 0H128" transform="rotate(190.1)"/><path d="M108 0H126" transform="rotate(192.3)"/><path d="M108 0H122" transform="rotate(194.4)"/>
<path d="M88 0H104" transform="rotate(201)"/>
<circle r="104" pathLength="360" stroke-dasharray="8.8 360" transform="rotate(196.6)"/>
<path d="M104 0H130" transform="rotate(196.6)"/><path d="M104 0H124" transform="rotate(198.8)"/><path d="M104 0H116" transform="rotate(202.1)"/>
<circle r="116" pathLength="360" stroke-dasharray="2.2 360" transform="rotate(201)"/>
<path d="M116 0H128" transform="rotate(201)"/><path d="M116 0H120" transform="rotate(203.2)"/><path d="M104 0H126" transform="rotate(205.4)"/>
<path d="M88 0H110" transform="rotate(210.8)"/>
<circle r="110" pathLength="360" stroke-dasharray="6.6 360" transform="rotate(207.5)"/>
<path d="M110 0H128" transform="rotate(207.5)"/><path d="M110 0H132" transform="rotate(209.7)"/><path d="M110 0H126" transform="rotate(211.9)"/><path d="M110 0H130" transform="rotate(214.1)"/>
<path d="M88 0H102" transform="rotate(220.6)"/>
<circle r="102" pathLength="360" stroke-dasharray="8.7 360" transform="rotate(216.3)"/>
<path d="M102 0H124" transform="rotate(216.3)"/><path d="M102 0H128" transform="rotate(218.4)"/><path d="M102 0H126" transform="rotate(220.6)"/><path d="M102 0H130" transform="rotate(222.8)"/><path d="M102 0H118" transform="rotate(225)"/>
<path d="M88 0H96" transform="rotate(232.4)"/>
<circle r="96" pathLength="360" stroke-dasharray="8.8 360" transform="rotate(227.1)"/>
<path d="M96 0H116" transform="rotate(227.1)"/><path d="M96 0H108" transform="rotate(229.75)"/>
<circle r="108" pathLength="360" stroke-dasharray="1.7 360" transform="rotate(228.9)"/>
<path d="M108 0H122" transform="rotate(228.9)"/><path d="M108 0H118" transform="rotate(230.6)"/><path d="M96 0H124" transform="rotate(232.4)"/>
<path d="M96 0H106" transform="rotate(235.9)"/>
<circle r="106" pathLength="360" stroke-dasharray="3.5 360" transform="rotate(234.1)"/>
<path d="M106 0H120" transform="rotate(234.1)"/><path d="M106 0H126" transform="rotate(235.9)"/><path d="M106 0H122" transform="rotate(237.6)"/>
</g>
</g>

<g id="node-markers" class="nd">
<circle cx="66" transform="rotate(-116.85)"/><circle cx="58" transform="rotate(-104.6)"/><circle cx="70" transform="rotate(-93.5)"/><circle cx="48" transform="rotate(-112)"/><circle cx="55" transform="rotate(-90)"/><circle cx="72" transform="rotate(-86.9)"/><circle cx="80" transform="rotate(-72.5)"/><circle cx="64" transform="rotate(-82)"/><circle cx="70" transform="rotate(-108)"/><circle class="g" cx="68" transform="rotate(-101.3)"/>
<circle cx="84" transform="rotate(-60.4)"/><circle cx="92" transform="rotate(-48.7)"/><circle cx="100" transform="rotate(-38.1)"/><circle cx="88" transform="rotate(-30.1)"/><circle class="g" cx="66" transform="rotate(-50)"/><circle cx="106" transform="rotate(-50.85)"/><circle class="g" cx="104" transform="rotate(-44.45)"/>
<circle cx="90" transform="rotate(-24)"/><circle cx="84" transform="rotate(-14.25)"/><circle cx="94" transform="rotate(-6.95)"/><circle cx="96" transform="rotate(0.3)"/><circle cx="70" transform="rotate(-22.8)"/><circle cx="62" transform="rotate(-15.5)"/><circle cx="74" transform="rotate(-8.2)"/><circle cx="80" transform="rotate(-0.9)"/>
<circle cx="100" transform="rotate(6.2)"/><circle cx="96" transform="rotate(14.1)"/><circle cx="104" transform="rotate(22)"/><circle cx="92" transform="rotate(29.8)"/><circle cx="100" transform="rotate(37.7)"/><circle class="g" cx="94" transform="rotate(43.3)"/><circle cx="102" transform="rotate(50)"/><circle cx="96" transform="rotate(59)"/><circle cx="90" transform="rotate(70.3)"/><circle cx="84" transform="rotate(12)"/><circle class="g" cx="80" transform="rotate(55)"/><circle class="g" cx="72" transform="rotate(27)"/><circle cx="112" transform="rotate(52.3)"/><circle cx="104" transform="rotate(68.05)"/><circle cx="102" transform="rotate(73.7)"/>
<circle cx="112" transform="rotate(84.2)"/><circle cx="78" transform="rotate(82)"/>
<circle cx="110" transform="rotate(90.1)"/><circle cx="104" transform="rotate(99.7)"/><circle cx="112" transform="rotate(109)"/><circle cx="106" transform="rotate(117)"/><circle cx="100" transform="rotate(127)"/><circle class="g" cx="82" transform="rotate(108)"/><circle class="g" cx="70" transform="rotate(128)"/><circle cx="116" transform="rotate(100.85)"/>
<circle cx="108" transform="rotate(137.3)"/><circle cx="102" transform="rotate(147.6)"/><circle cx="96" transform="rotate(160)"/><circle cx="104" transform="rotate(171.4)"/><circle cx="100" transform="rotate(181.4)"/><circle class="g" cx="86" transform="rotate(160)"/><circle cx="114" transform="rotate(146.45)"/><circle cx="110" transform="rotate(157.8)"/><circle class="g" cx="112" transform="rotate(162.35)"/><circle cx="112" transform="rotate(180.3)"/>
<circle cx="108" transform="rotate(191.2)"/><circle cx="104" transform="rotate(201)"/><circle cx="110" transform="rotate(210.8)"/><circle cx="102" transform="rotate(220.6)"/><circle cx="96" transform="rotate(232.4)"/><circle class="g" cx="88" transform="rotate(210)"/><circle class="g" cx="78" transform="rotate(172)"/><circle cx="116" transform="rotate(202.1)"/><circle cx="108" transform="rotate(229.75)"/><circle cx="106" transform="rotate(235.9)"/>
</g>

<g id="clade-thaumarchaeota" transform="rotate(-46.5) translate(148 0) rotate(90)"><rect x="-52" y="-9" width="104" height="18" fill="#e69a9a" opacity=".72"/><text class="cl" y="0.5">Thaumarchaeota</text></g>
<g id="clade-methanobacteriales" transform="rotate(199.5) translate(150 0) rotate(90)"><rect x="-58" y="-9" width="116" height="18" fill="#a6bfe3" opacity=".8"/><text class="cl" y="0.5">Methanobacteriales</text></g>
<g id="clade-methanomassiliicoccales" transform="rotate(40.7) translate(142 0) rotate(-90)"><rect x="-64" y="-9" width="128" height="18" fill="#f3e09a" opacity=".8"/><text class="cl" style="font-size:10px" y="0.5">Methanomassiliicoccales</text></g>
</g>
</svg>
